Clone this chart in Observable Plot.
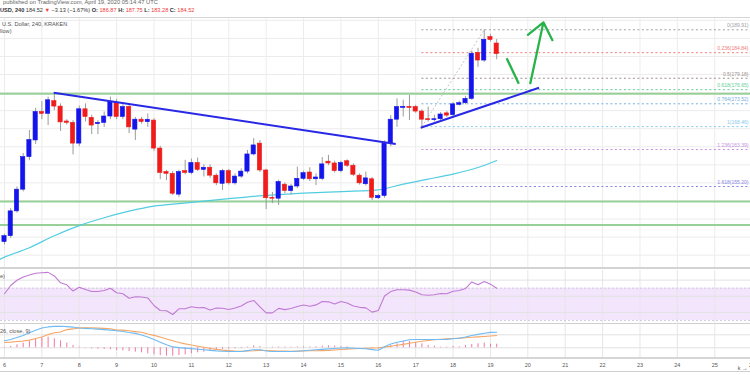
<!DOCTYPE html>
<html><head><meta charset="utf-8">
<script src="https://cdn.jsdelivr.net/npm/d3@7"></script>
<script src="https://cdn.jsdelivr.net/npm/@observablehq/plot@0.6"></script>
<style>
body{margin:0;width:750px;height:375px;overflow:hidden;background:#fff;font-family:"Liberation Sans",Arial,sans-serif;position:relative}
.pane{position:absolute;left:0;width:750px;overflow:hidden}
.t{position:absolute;white-space:nowrap;color:#555;line-height:1}
.sep{position:absolute;left:0;width:750px}
.r{color:#f23a3a}
b{font-weight:bold;color:#333}
</style></head><body>
<div class="t" style="top:0px;left:3px;font-size:5.8px;color:#666">published on TradingView.com, April 19, 2020 05:14:47 UTC</div>
<div class="t" style="top:7.5px;left:0;font-size:5.6px;color:#333"><b>USD, 240</b> 184.52 <span class="r">▼</span> −3.13 (−1.67%) <b>O:</b> <span class="r">186.87</span> <b>H:</b> <span class="r">187.75</span> <b>L:</b> <span class="r">183.28</span> <b>C:</b> <span class="r">184.52</span></div>
<div class="sep" style="top:17px;height:1px;background:#d6d6d6"></div>
<div id="main" class="pane" style="top:18px;height:250px"></div>
<div class="sep" style="top:267px;height:2px;background:#d3d3d3"></div>
<div id="rsi" class="pane" style="top:270px;height:53px"></div>
<div class="sep" style="top:322.5px;height:1.5px;background:#cfcfcf"></div>
<div id="macd" class="pane" style="top:323px;height:49px"></div>
<div class="sep" style="top:357px;height:2px;background:#d6d6d6"></div>
<div class="sep" style="top:371px;height:1px;background:#cfcfcf"></div>
<div class="t" style="top:21.5px;left:2px;font-size:5.6px;color:#555">U.S. Dollar, 240, KRAKEN</div>
<div class="t" style="top:29px;left:0;font-size:5.6px;color:#555">llow)</div>
<div class="t" style="top:274px;left:0;font-size:5.6px;color:#555">e)</div>
<div class="t" style="top:328.5px;left:0;font-size:5.6px;color:#555">26, close, 9)</div>
<script>
// ---- data (240-minute candles, bar 0 = April 6 00:00) ----
const barOpen = [142.9,144.2,149.7,154.5,161.7,165.4,171.7,171.3,174.1,172.9,169.6,169.3,164.7,172.3,170.4,169.0,169.3,170.7,173.7,170.6,172.8,167.8,170.0,169.45,169.8,163.6,158.4,158.0,153.4,158.6,158.2,160.4,158.9,159.35,157.6,155.8,158.6,155.9,157.4,158.5,162.3,164.7,158.75,152.7,152.5,155.6,154.2,155.2,156.9,158.3,156.8,156.9,160.7,160.3,158.6,160.8,159.8,157.6,155.7,156.8,152.6,153.1,164.7,170.0,172.6,172.85,172.8,171.8,170.1,169.9,170.1,171.4,171.0,173.3,173.65,174.6,184.8,183.1,188.3,186.87];
const barHigh = [144.6,150.3,155.1,162.5,167.6,172.5,174.0,175.0,176.0,173.5,170.0,169.8,173.0,173.5,171.0,169.8,171.7,175.0,174.5,173.3,173.3,170.5,170.5,171.3,170.2,164.1,158.75,158.5,158.8,161.0,161.3,161.5,160.0,160.0,158.0,159.0,159.0,158.0,159.1,163.2,165.8,165.4,159.0,153.9,156.6,156.0,155.7,159.5,158.6,159.35,158.0,161.6,162.1,160.8,160.8,161.1,160.2,158.0,158.4,157.2,153.5,165.3,170.9,174.6,174.3,175.4,173.2,172.2,172.8,171.0,171.6,171.8,173.8,174.1,175.1,185.2,185.8,189.91,188.9,187.75];
const barLow = [142.3,143.7,149.3,154.0,160.9,164.5,170.0,168.7,172.0,167.4,168.8,162.2,164.0,169.5,166.7,166.7,168.3,170.0,170.0,170.0,166.9,165.4,169.0,168.3,163.0,156.7,156.5,153.2,152.8,157.8,157.8,158.5,157.3,157.0,155.4,154.3,155.5,155.5,157.0,158.0,162.0,158.3,150.1,151.4,151.0,153.6,153.3,154.7,156.5,156.3,155.4,156.5,159.8,158.2,158.2,159.4,157.4,155.5,155.3,152.1,152.3,152.6,164.0,168.3,170.6,169.8,171.4,168.46,169.45,169.5,169.8,170.5,170.7,173.0,173.3,174.3,181.6,182.7,187.2,183.28];
const barClose = [144.2,149.7,154.5,161.7,165.5,171.7,171.3,174.3,172.9,169.4,169.3,164.7,172.3,170.6,168.7,169.3,170.7,173.9,170.6,172.8,168.3,170.0,169.5,169.98,163.6,158.2,158.0,153.6,158.4,158.2,160.4,158.9,159.35,157.6,155.9,158.6,155.9,157.4,158.5,162.3,164.3,158.75,152.6,152.5,156.2,154.2,155.2,156.9,158.15,156.8,157.2,160.1,160.3,158.6,160.4,159.8,157.8,155.9,157.0,152.7,153.1,164.7,170.0,172.8,172.85,172.6,171.8,170.0,169.9,170.1,171.15,170.9,173.4,173.65,174.6,184.6,183.1,187.7,187.65,184.52];

// moving average, read at these bars
const maBar = [-1,0,4,8,12,16,20,24,28,32,36,40,44,48,52,56,60,64,68,72,76,79];
const maValue = [138.9,139.57,141.65,144.31,146.55,148.29,149.73,150.85,151.4,151.96,152.51,153.03,153.41,153.72,153.97,154.18,154.45,155.73,156.82,157.95,159.41,160.96];

const rsiValue = [63.1,73.3,79.8,83.9,86.3,88.6,89.1,89.6,85.2,76.7,74.2,66.5,71.1,68.4,65.9,65.9,67.2,70.0,64.4,63.1,57.6,59.4,59.1,57.9,48.6,42.4,42.1,37.4,44.5,44.5,47.1,45.7,46.1,42.9,45.4,45.2,43.6,45.5,48.0,52.7,54.8,47.0,39.5,39.5,45.0,43.5,44.9,47.3,49.2,47.7,49.3,53.5,53.1,50.4,53.5,51.7,48.0,46.3,45.6,40.4,42.4,60.3,65.8,68.0,68.0,67.6,65.3,61.8,61.3,61.8,63.4,63.1,66.2,67.2,69.6,77.7,74.3,78.3,75.0,70.0];

const macdValue = [1.78,2.08,2.58,3.08,3.78,4.4,4.95,5.22,5.35,5.4,5.3,5.18,4.95,4.85,4.78,4.68,4.55,4.42,4.25,4.08,3.82,3.6,3.2,2.68,2.05,1.38,0.78,0.22,0.05,-0.08,-0.2,-0.35,-0.5,-0.65,-0.78,-0.85,-0.92,-0.92,-0.92,-0.7,-0.5,-0.48,-0.8,-0.92,-0.92,-0.92,-0.92,-0.85,-0.75,-0.62,-0.5,-0.4,-0.28,-0.18,-0.05,-0.02,-0.1,-0.18,-0.25,-0.45,-0.62,0.28,0.95,1.38,1.7,2.0,2.08,2.08,2.08,2.08,2.08,2.1,2.25,2.38,2.68,3.08,3.35,3.62,3.85,3.9];
const signalValue = [1.32,1.42,1.58,1.68,1.92,2.32,2.68,3.3,3.75,3.95,4.55,4.72,4.98,5.0,5.0,4.92,4.85,4.75,4.42,4.42,4.25,4.05,3.88,3.45,3.1,2.68,2.22,1.78,1.32,0.98,0.7,0.4,0.12,-0.18,-0.4,-0.58,-0.7,-0.8,-0.85,-0.8,-0.75,-0.65,-0.68,-0.75,-0.8,-0.82,-0.85,-0.82,-0.8,-0.75,-0.72,-0.7,-0.65,-0.55,-0.42,-0.32,-0.25,-0.18,-0.1,-0.05,0.02,0.18,0.38,0.62,0.85,1.12,1.4,1.62,1.82,2.0,2.12,2.25,2.32,2.42,2.52,2.62,2.72,2.82,2.95,3.08];
const histValue = [0.15,0.33,0.74,1.16,1.58,2.08,2.49,2.66,2.24,1.74,1.16,0.58,0.16,-0.09,-0.26,-0.34,-0.43,-0.5,-0.68,-0.76,-0.93,-1.09,-1.26,-1.5,-1.76,-1.93,-2.1,-2.1,-1.93,-1.76,-1.5,-1.26,-1.09,-0.93,-0.68,-0.43,-0.34,-0.26,-0.18,0.16,0.5,0.33,0.0,0.16,0.2,0.2,0.16,0.2,0.25,0.2,0.25,0.4,0.5,0.45,0.3,0.25,0.1,-0.05,-0.1,-0.2,-0.3,0.16,0.58,1.0,1.58,1.58,1.24,1.0,0.58,0.41,0.16,0.16,0.33,0.24,0.58,0.83,1.0,1.16,0.91,0.9];

const supportLevels = [175.74, 151.9, 146.7];
const fibRatio = ["0","0.236","0.5","0.618","0.764","1","1.236","1.618"];
const fibPrice = [189.91,184.84,179.18,176.65,173.52,168.46,163.39,155.20];
const fibColor = ["#a0a0a0","#f07a7a","#9c8f8f","#5fcf95","#74aee0","#86c9ec","#c68ee0","#8585e6"];
const fibAnchorBar = [67, 77];
const fibAnchorPrice = [168.46, 189.91];

const trendBar1 = [[7.9, 62.8], [66.8, 85.8]];
const trendPrice = [[175.96, 164.62], [168.21, 177.07]];
const projBar = [[80.6, 82.55], [84.4, 86.5]];
const projPrice = [[183.62, 177.95], [178.08, 191.55]];

const dayLabels = ["6","7","8","9","10","11","12","13","14","15","16","17","18","19","20","21","22","23","24","25","26"];
const barsPerDay = 6;
const priceGrid = d3.range(140, 193, 4);
const rsiGrid = [40, 60, 80];
const macdGrid = [0, 3.25];

// ---- build ----
const bars = barOpen.map((o, i) => ({k: i, o, h: barHigh[i], l: barLow[i], c: barClose[i]}));
const ind = rsiValue.map((r, i) => ({k: i, rsi: r, macd: macdValue[i], sig: signalValue[i], hist: histValue[i]}));
const ma = maBar.map((k, i) => ({k, v: maValue[i]}));
const dayK = dayLabels.map((d, i) => i * barsPerDay);
const xDomain = [-0.642, 119.74];
const xs = {domain: xDomain, axis: null};
const W = 750;
const base = {width: W, marginLeft: 0, marginRight: 0, marginTop: 0, style: {background: "transparent", fontFamily: "Liberation Sans, Arial, sans-serif"}};
const blue = "#1414ec", red = "#f01c1c";
const col = d => d.c >= d.o ? blue : red;

const fib = fibPrice.map((p, i) => ({p, r: fibRatio[i], color: fibColor[i], label: `${fibRatio[i]}(${p.toFixed(2)})`}));

const main = Plot.plot({
  ...base, height: 250, marginBottom: 0,
  x: xs,
  y: {domain: [137.04, 192.41], axis: null},
  marks: [
    Plot.ruleX(dayK, {stroke: "#ececec", strokeWidth: 1}),
    Plot.ruleY(priceGrid, {stroke: "#ececec", strokeWidth: 1}),
    Plot.ruleY(fib, {y: "p", x1: fibAnchorBar[0], x2: xDomain[1], stroke: "color", strokeWidth: 1, strokeDasharray: "2,2.5"}),
    Plot.text(fib, {x: xDomain[1], y: "p", text: "label", fill: "color", textAnchor: "end", fontSize: 5, dx: -2, dy: -4}),
    Plot.link([0], {x1: fibAnchorBar[0], y1: fibAnchorPrice[0], x2: fibAnchorBar[1], y2: fibAnchorPrice[1], stroke: "#b5b5b5", strokeWidth: 0.8, strokeDasharray: "2,2"}),
    Plot.ruleY(supportLevels, {stroke: "#98d198", strokeWidth: 2}),
    Plot.line(ma, {x: "k", y: "v", stroke: "#52cde0", strokeWidth: 1.2, curve: "catmull-rom", clip: true}),
    Plot.ruleX(bars, {x: "k", y1: "l", y2: "h", stroke: "#9b9b9b", strokeWidth: 1}),
    Plot.rect(bars, {x1: d => d.k - 0.34, x2: d => d.k + 0.34, y1: "o", y2: "c", fill: col, stroke: col, strokeWidth: 0.6}),
    Plot.link(trendBar1, {x1: (d) => d[0], x2: (d) => d[1], y1: (d, i) => trendPrice[i][0], y2: (d, i) => trendPrice[i][1], stroke: "#2828e6", strokeWidth: 2}),
    Plot.link([projBar[0]], {x1: d => d[0], x2: d => d[1], y1: projPrice[0][0], y2: projPrice[0][1], stroke: "#27b24a", strokeWidth: 2.3}),
    Plot.arrow([projBar[1]], {x1: d => d[0], x2: d => d[1], y1: projPrice[1][0], y2: projPrice[1][1], stroke: "#27b24a", strokeWidth: 2.3, headLength: 13, headAngle: 78})
  ]
});
document.getElementById("main").append(main);

const rsi = Plot.plot({
  ...base, height: 53, marginBottom: 0,
  x: xs,
  y: {domain: [26.28, 91.92], axis: null},
  marks: [
    Plot.rect([0], {x1: xDomain[0], x2: xDomain[1], y1: 30, y2: 70, fill: "#f3e5fc"}),
    Plot.ruleX(dayK, {stroke: "#e6e6e6", strokeWidth: 1}),
    Plot.ruleY(rsiGrid, {stroke: "#e2e2e2", strokeWidth: 1}),
    Plot.ruleY([30, 70], {stroke: "#c9c0d4", strokeWidth: 0.8, strokeDasharray: "2,2"}),
    Plot.line(ind, {x: "k", y: "rsi", stroke: "#c07ad4", strokeWidth: 1.1})
  ]
});
document.getElementById("rsi").append(rsi);

const macd = Plot.plot({
  ...base, height: 49, marginBottom: 14,
  x: {domain: xDomain},
  y: {domain: [-2.675, 6.075], axis: null},
  marks: [
    Plot.ruleX(dayK, {stroke: "#e6e6e6", strokeWidth: 1, y1: -2.675, y2: 6.075}),
    Plot.ruleY(macdGrid, {stroke: "#e2e2e2", strokeWidth: 1}),
    Plot.ruleX(ind, {x: "k", y1: 0, y2: "hist", stroke: "#f0799f", strokeWidth: 1}),
    Plot.line(ind, {x: "k", y: "sig", stroke: "#f6a766", strokeWidth: 1.1}),
    Plot.line(ind, {x: "k", y: "macd", stroke: "#6fbaf2", strokeWidth: 1.1}),
    Plot.axisX({ticks: dayK, tickFormat: k => dayLabels[Math.round(k / barsPerDay)], tickSize: 0, tickPadding: 5, fontSize: 5.5, fill: "#555"})
  ]
});
document.getElementById("macd").append(macd);
</script>
</body></html>
